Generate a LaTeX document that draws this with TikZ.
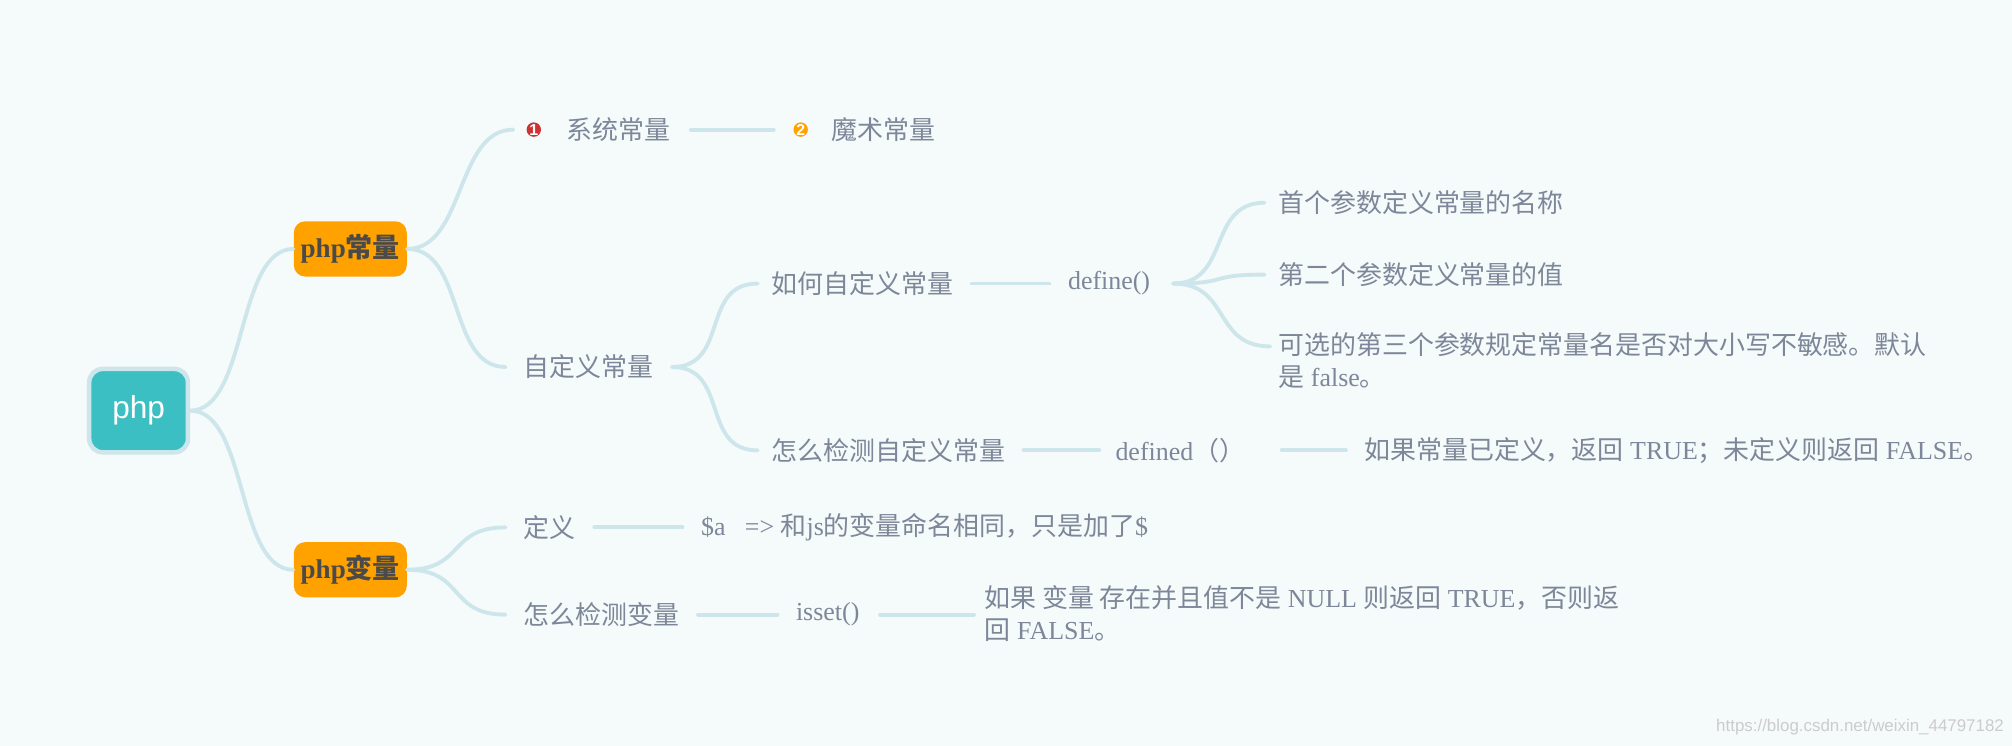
\documentclass[tikz,border=0pt]{standalone}
\usepackage{fontspec}
\setmainfont{Liberation Serif}
\newfontfamily\cjk{Noto Sans CJK SC}
\newfontfamily\sans{Liberation Sans}
\begin{document}
\begin{tikzpicture}[x=0.02cm,y=-0.02cm,
  txt/.style={anchor=west,inner sep=0pt,text=tcol,font=\fontsize{11.5}{15}\selectfont},
  conn/.style={draw=lcol,line width=1.7pt,line cap=round},
  obox/.style={fill=ocol,rounded corners=5pt,minimum width=88\pgflinewidth,inner sep=0pt,text=dcol,font=\fontsize{12}{14}\selectfont\bfseries},
  bul/.style={circle,inner sep=0pt,minimum size=16\pgflinewidth,text=white,font=\sans\bfseries\fontsize{7}{8}\selectfont}]
\definecolor{bg}{HTML}{F5FAFA}
\definecolor{tcol}{HTML}{7D8799}
\definecolor{lcol}{HTML}{CDE6EB}
\definecolor{ocol}{HTML}{FFA200}
\definecolor{dcol}{HTML}{4A4A4A}
\definecolor{tcl}{HTML}{3BBFC2}
\fill[bg] (0,0) rectangle (1568,581);
\useasboundingbox (0,0) rectangle (1568,581);
% root
\node[fill=tcl,draw=lcol,line width=2pt,rounded corners=6pt,minimum width=1.54cm,minimum height=1.3cm,text=white,font=\sans\fontsize{14}{16}\selectfont] (root) at (108,320) {php};
\node[obox,minimum width=1.76cm,minimum height=0.86cm] (c) at (273,194) {php{\cjk\bfseries 常量}};
\node[obox,minimum width=1.76cm,minimum height=0.86cm] (v) at (273,444) {php{\cjk\bfseries 变量}};
\draw[conn] (root.east) .. controls +(45,0) and +(-45,0) .. (c.west);
\draw[conn] (root.east) .. controls +(45,0) and +(-45,0) .. (v.west);
% constants
\node[bul,fill=red!75!black!80] (b1) at (416,101) {1};
\node[txt] (sys) at (441,101) {\cjk 系统常量};
\node[bul,fill=ocol] (b2) at (624,101) {2};
\node[txt] (mag) at (648,101) {\cjk 魔术常量};
\coordinate (sysin) at (400,101);
\draw[conn] (c.east) .. controls +(45,0) and +(-45,0) .. (sysin);
\draw[conn] ([xshift=9pt]sys.east) -- ([xshift=-0.3cm]b2.west);
\node[txt] (zdy) at (408,286) {\cjk 自定义常量};
\draw[conn] (c.east) .. controls +(45,0) and +(-45,0) .. ([xshift=-8]zdy.west);
\node[txt] (rh) at (601,221) {\cjk 如何自定义常量};
\node[txt] (zm) at (601,351) {\cjk 怎么检测自定义常量};
\draw[conn] ([xshift=8]zdy.east) .. controls +(45,0) and +(-45,0) .. ([xshift=-6]rh.west);
\draw[conn] ([xshift=8]zdy.east) .. controls +(45,0) and +(-45,0) .. ([xshift=-6]zm.west);
\node[txt] (def) at (832,221) {define()};
\draw[conn] ([xshift=8]rh.east) -- ([xshift=-8]def.west);
\node[txt] (a1) at (996,158) {\cjk 首个参数定义常量的名称};
\node[txt] (a2) at (996,214) {\cjk 第二个参数定义常量的值};
\node[txt,align=left,anchor=north west] (a3) at (996,259) {{\cjk 可选的第三个参数规定常量名是否对大小写不敏感。默认}\\[-1pt]{\cjk 是} false{\cjk 。}};
\coordinate (a3in) at (990,270);
\draw[conn] ([xshift=10]def.east) .. controls +(45,0) and +(-45,0) .. ([xshift=-6]a1.west);
\draw[conn] ([xshift=10]def.east) .. controls +(45,0) and +(-45,0) .. ([xshift=-6]a2.west);
\draw[conn] ([xshift=10]def.east) .. controls +(45,0) and +(-45,0) .. (a3in);
\node[txt] (dfd) at (869,351) {defined{\cjk （）}};
\draw[conn] ([xshift=8]zm.east) -- ([xshift=-7]dfd.west);
\node[txt] (r1) at (1063,351) {{\cjk 如果常量已定义，返回} TRUE{\cjk ；未定义则返回} FALSE{\cjk 。}};
\draw[conn] ([xshift=16]dfd.east) -- ([xshift=-8]r1.west);
% variables
\node[txt] (dy) at (408,411) {\cjk 定义};
\node[txt] (sa) at (546,411) {\$a~~ => {\cjk 和}js{\cjk 的变量命名相同，只是加了}\$};
\draw[conn] (v.east) .. controls +(45,0) and +(-45,0) .. ([xshift=-8]dy.west);
\draw[conn] ([xshift=8]dy.east) -- ([xshift=-8]sa.west);
\node[txt] (zmb) at (408,479) {\cjk 怎么检测变量};
\draw[conn] (v.east) .. controls +(45,0) and +(-45,0) .. ([xshift=-8]zmb.west);
\node[txt] (iss) at (620,479) {isset()};
\draw[conn] ([xshift=8]zmb.east) -- ([xshift=-8]iss.west);
\node[txt,align=left,anchor=north west] (r2) at (767,456) {{\cjk 如果 变量 存在并且值不是} NULL {\cjk 则返回} TRUE{\cjk ，否则返}\\[-1pt]{\cjk 回} FALSE{\cjk 。}};
\coordinate (r2in) at (759,479);
\draw[conn] ([xshift=9]iss.east) -- (r2in);
\node[anchor=east,inner sep=0pt,text=black!20,font=\sans\fontsize{7.5}{9}\selectfont] (wm) at (1562,567) {https://blog.csdn.net/weixin\_44797182};
\end{tikzpicture}
\end{document}
